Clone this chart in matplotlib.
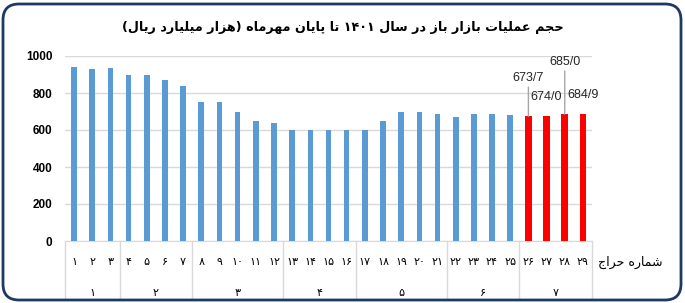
import matplotlib
matplotlib.use('Agg')
import matplotlib.pyplot as plt
import matplotlib.transforms as mtransforms
from matplotlib.patches import FancyBboxPatch
from matplotlib.lines import Line2D

# data
auctions = list(range(1, 30))
values = [940, 932, 937, 898, 898, 870, 836, 750, 750, 700,
          650, 638, 600, 600, 600, 600, 600, 650, 700, 700,
          685, 670, 685, 685, 682, 673.7, 674.0, 685.0, 684.9]
months = ['1', '2', '3', '4', '5', '6', '7']
month_sizes = [3, 4, 5, 4, 5, 4, 4]
red_from = 26
label_texts = ['673/7', '674/0', '685/0', '684/9']
title = 'حجم عملیات بازار باز در سال 1401 تا پایان مهرماه (هزار میلیارد ریال)'
xlabel = 'شماره حراج'

# --- minimal persian shaping (matplotlib has no text layout for arabic script)
FORMS = {
    'ا': ('\uFE8D', '\uFE8E', None, None),
    'ب': ('\uFE8F', '\uFE90', '\uFE91', '\uFE92'),
    'پ': ('\uFB56', '\uFB57', '\uFB58', '\uFB59'),
    'ت': ('\uFE95', '\uFE96', '\uFE97', '\uFE98'),
    'ج': ('\uFE9D', '\uFE9E', '\uFE9F', '\uFEA0'),
    'ح': ('\uFEA1', '\uFEA2', '\uFEA3', '\uFEA4'),
    'د': ('\uFEA9', '\uFEAA', None, None),
    'ر': ('\uFEAD', '\uFEAE', None, None),
    'ز': ('\uFEAF', '\uFEB0', None, None),
    'س': ('\uFEB1', '\uFEB2', '\uFEB3', '\uFEB4'),
    'ش': ('\uFEB5', '\uFEB6', '\uFEB7', '\uFEB8'),
    'ع': ('\uFEC9', '\uFECA', '\uFECB', '\uFECC'),
    'ل': ('\uFEDD', '\uFEDE', '\uFEDF', '\uFEE0'),
    'م': ('\uFEE1', '\uFEE2', '\uFEE3', '\uFEE4'),
    'ن': ('\uFEE5', '\uFEE6', '\uFEE7', '\uFEE8'),
    'ه': ('\uFEE9', '\uFEEA', '\uFEEB', '\uFEEC'),
    'ی': ('\uFBFC', '\uFBFD', '\uFBFE', '\uFBFF'),
}
FA_DIGITS = str.maketrans('0123456789', '۰۱۲۳۴۵۶۷۸۹')

def dual(c):
    return c in FORMS and FORMS[c][2] is not None

def shape(text):
    text = text.translate(FA_DIGITS)
    out = []
    for i, c in enumerate(text):
        if c not in FORMS:
            out.append(c)
            continue
        prev = text[i-1] if i > 0 else ''
        nxt = text[i+1] if i < len(text)-1 else ''
        jp = dual(prev)
        jn = dual(c) and nxt in FORMS
        if jp and jn:
            out.append(FORMS[c][3])
        elif jp:
            out.append(FORMS[c][1])
        elif jn:
            out.append(FORMS[c][2])
        else:
            out.append(FORMS[c][0])
    # visual order: reverse, keep digit runs LTR, mirror brackets
    runs = []
    for c in out:
        isdig = c in '۰۱۲۳۴۵۶۷۸۹'
        if runs and isdig and runs[-1][0]:
            runs[-1][1].append(c)
        else:
            runs.append([isdig, [c]])
    vis = ''.join(''.join(r[1]) for r in reversed(runs))
    return vis.translate(str.maketrans('()', ')('))

blue = '#5B9BD5'
red = '#FF0000'
grid_c = '#D9D9D9'
frame_c = '#1F3864'

fig = plt.figure(figsize=(6.85, 3.03), dpi=100)
ax = fig.add_axes([65/685, 62/303, 527/685, 185/303])

colors = [red if a >= red_from else blue for a in auctions]
widths = [0.36 if a >= red_from else 0.31 for a in auctions]
ax.bar(auctions, values, width=widths, color=colors, zorder=3)

ax.set_xlim(0.5, 29.5)
ax.set_ylim(0, 1000)
ax.set_yticks(range(0, 1001, 200))
ax.set_yticklabels([str(v) for v in range(0, 1001, 200)],
                   fontsize=8.5, fontweight='bold', family='Liberation Sans')
ax.tick_params(axis='y', length=0, pad=9)
ax.set_xticks([])
ax.grid(axis='y', color=grid_c, lw=1, zorder=0)
for s in ['top', 'left', 'right']:
    ax.spines[s].set_visible(False)
ax.spines['bottom'].set_color(grid_c)

# multi level category axis
trans = mtransforms.blended_transform_factory(ax.transData, ax.transAxes)
for a in auctions:
    ax.text(a, -0.115, shape(str(a)), transform=trans, ha='center', va='center',
            fontsize=8, family='DejaVu Sans')
start = 0.5
for m, n in zip(months, month_sizes):
    ax.add_line(Line2D([start, start], [0, -0.31], transform=trans, color=grid_c,
                       lw=1, clip_on=False))
    ax.text(start + n/2, -0.28, shape(m), transform=trans, ha='center', va='center',
            fontsize=8, family='DejaVu Sans')
    start += n
ax.add_line(Line2D([start, start], [0, -0.31], transform=trans, color=grid_c,
                   lw=1, clip_on=False))

fig.text(630/685, 41/303, shape(xlabel), ha='center', va='center', fontsize=9,
         family='DejaVu Sans')

# data labels for the last four auctions
offsets = [32, 13, 46, 13]
lines = [True, False, True, False]
for k, (txt, dy, ln) in enumerate(zip(label_texts, offsets, lines)):
    a = red_from + k
    v = values[a - 1]
    kw = {}
    if ln:
        kw['arrowprops'] = dict(arrowstyle='-', color='#A6A6A6', lw=1,
                                shrinkA=0, shrinkB=0, relpos=(0.5, 0))
    ax.annotate(txt, xy=(a, v), xytext=(0, dy), textcoords='offset pixels',
                ha='center', va='bottom', fontsize=9, family='Liberation Sans',
                color='#262626', **kw)

fig.text(0.5, 1 - 28/303, shape(title), ha='center', va='center', fontsize=9.2,
         fontweight='bold', family='DejaVu Sans')

frame = FancyBboxPatch((3, 3), 678, 296, boxstyle='round,pad=0,rounding_size=16',
                       transform=None, fill=False, ec=frame_c, lw=2)
fig.add_artist(frame)

fig.savefig('out.png', dpi=100)
